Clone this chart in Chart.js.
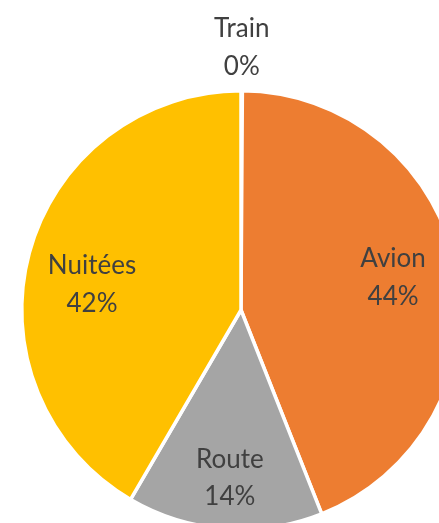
<!DOCTYPE html>
<html>
<head>
<meta charset="utf-8">
<script src="https://cdn.jsdelivr.net/npm/chart.js@4"></script>
<style>
  html, body { margin: 0; padding: 0; background: #fff; overflow: hidden; width: 439px; height: 523px; }
  #wrap { position: absolute; left: 0; top: 0; width: 482px; height: 560px; }
</style>
</head>
<body>
<div id="wrap"><canvas id="c"></canvas></div>
<script>
const categories = ['Train', 'Avion', 'Route', 'Nuitées'];
const values = [0.1, 43.9, 14.4, 41.6];
const colors = ['#4472C4', '#ED7D31', '#A5A5A5', '#FFC000'];
// label placement (style): radial fraction and angle shift in degrees
const labelRadius = [1.2, 0.71, 0.765, 0.69];
const labelAngleShift = [0, -1.7, -0.5, -5.2];

const labelPlugin = {
  id: 'sliceLabels',
  afterDatasetsDraw(chart) {
    const ctx = chart.ctx;
    const meta = chart.getDatasetMeta(0);
    const data = chart.data.datasets[0].data;
    const total = data.reduce((a, b) => a + b, 0);
    ctx.save();
    ctx.font = '26px Lato';
    ctx.fillStyle = '#404040';
    ctx.textAlign = 'center';
    ctx.textBaseline = 'middle';
    meta.data.forEach((arc, i) => {
      const p = arc.getProps(['x', 'y', 'startAngle', 'endAngle', 'outerRadius'], true);
      const mid = (p.startAngle + p.endAngle) / 2 + labelAngleShift[i] * Math.PI / 180;
      const r = p.outerRadius * labelRadius[i];
      const x = p.x + Math.cos(mid) * r;
      const y = p.y + Math.sin(mid) * r;
      const pct = Math.round(data[i] / total * 100) + '%';
      ctx.fillText(chart.data.labels[i], x, y - 18);
      ctx.fillText(pct, x, y + 19.5);
    });
    ctx.restore();
  }
};

new Chart(document.getElementById('c'), {
  type: 'pie',
  data: {
    labels: categories,
    datasets: [{
      data: values,
      backgroundColor: colors,
      borderColor: '#ffffff',
      borderWidth: 3.5,
      hoverOffset: 0
    }]
  },
  options: {
    responsive: true,
    maintainAspectRatio: false,
    animation: false,
    layout: { padding: { left: 20, right: 20, top: 89, bottom: 29 } },
    plugins: { legend: { display: false }, tooltip: { enabled: false } }
  },
  plugins: [labelPlugin]
});
</script>
</body>
</html>
